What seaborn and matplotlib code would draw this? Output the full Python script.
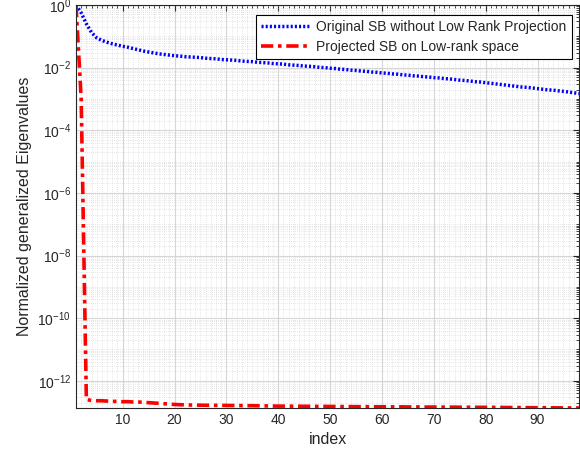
import numpy as np
import pandas as pd
import seaborn as sns
import matplotlib.pyplot as plt
from matplotlib.ticker import LogFormatterSciNotation, MultipleLocator, NullFormatter

# --- data (index 1..98) ---
index = list(range(1, 99))

original_sb = [
    1.0, 0.562, 0.251, 0.132, 0.0891, 0.0741, 0.0646, 0.0575, 0.0525, 0.0479,
    0.0447, 0.0407, 0.0372, 0.0339, 0.0316, 0.0295, 0.0275, 0.0263, 0.0251, 0.0240,
    0.0234, 0.0224, 0.0219, 0.0214, 0.0209, 0.0200, 0.0195, 0.0191, 0.0182, 0.0178,
    0.0174, 0.0170, 0.0162, 0.0158, 0.0155, 0.0148, 0.0145, 0.0141, 0.0135, 0.0132,
    0.0129, 0.0123, 0.0120, 0.0117, 0.0112, 0.0110, 0.0107, 0.0102, 0.0100, 0.00955,
    0.00933, 0.00891, 0.00871, 0.00832, 0.00813, 0.00776, 0.00759, 0.00724, 0.00708, 0.00676,
    0.00661, 0.00631, 0.00617, 0.00589, 0.00575, 0.00550, 0.00537, 0.00513, 0.00501, 0.00479,
    0.00468, 0.00447, 0.00437, 0.00417, 0.00398, 0.00389, 0.00372, 0.00355, 0.00347, 0.00331,
    0.00316, 0.00302, 0.00288, 0.00275, 0.00263, 0.00251, 0.00240, 0.00234, 0.00224, 0.00214,
    0.00204, 0.00195, 0.00191, 0.00182, 0.00174, 0.00166, 0.00158, 0.00148,
]

projected_sb = [
    1.0, 1e-3, 2.50e-13, 2.35e-13, 2.30e-13, 2.30e-13, 2.25e-13, 2.20e-13, 2.20e-13, 2.15e-13,
    2.15e-13, 2.10e-13, 2.10e-13, 2.05e-13, 2.00e-13, 1.95e-13, 1.90e-13, 1.85e-13, 1.80e-13, 1.75e-13,
    1.72e-13, 1.70e-13, 1.68e-13, 1.67e-13, 1.66e-13, 1.65e-13, 1.65e-13, 1.64e-13, 1.64e-13, 1.63e-13,
    1.62e-13, 1.62e-13, 1.61e-13, 1.60e-13, 1.60e-13, 1.59e-13, 1.58e-13, 1.57e-13, 1.56e-13, 1.55e-13,
    1.55e-13, 1.55e-13, 1.54e-13, 1.54e-13, 1.53e-13, 1.53e-13, 1.52e-13, 1.52e-13, 1.52e-13, 1.51e-13,
    1.51e-13, 1.50e-13, 1.50e-13, 1.50e-13, 1.49e-13, 1.49e-13, 1.49e-13, 1.48e-13, 1.48e-13, 1.48e-13,
    1.48e-13, 1.47e-13, 1.47e-13, 1.47e-13, 1.46e-13, 1.46e-13, 1.46e-13, 1.45e-13, 1.45e-13, 1.45e-13,
    1.44e-13, 1.44e-13, 1.44e-13, 1.44e-13, 1.43e-13, 1.43e-13, 1.43e-13, 1.42e-13, 1.42e-13, 1.42e-13,
    1.42e-13, 1.41e-13, 1.41e-13, 1.40e-13, 1.40e-13, 1.40e-13, 1.39e-13, 1.39e-13, 1.38e-13, 1.38e-13,
    1.38e-13, 1.37e-13, 1.37e-13, 1.36e-13, 1.36e-13, 1.36e-13, 1.35e-13, 1.35e-13,
]

labels = ['Original SB without Low Rank Projection', 'Projected SB on Low-rank space']

df = pd.DataFrame({'index': index, 'orig': original_sb, 'proj': projected_sb})

sns.set_style("white")
plt.rcParams['font.family'] = ['Liberation Sans', 'DejaVu Sans']
plt.rcParams['mathtext.fontset'] = 'custom'
plt.rcParams['mathtext.rm'] = 'Liberation Sans'
plt.rcParams['mathtext.it'] = 'Liberation Sans:italic'

text_col = '#262626'

fig = plt.figure(figsize=(5.8, 4.61), dpi=100)
ax = fig.add_axes([76 / 580, 1 - 408 / 461, 503 / 580, 403 / 461])

sns.lineplot(data=df, x='index', y='orig', ax=ax, color='blue', lw=2.5,
             linestyle=(0, (0.6, 0.6)), label=labels[0])
sns.lineplot(data=df, x='index', y='proj', ax=ax, color='red', lw=2.6,
             linestyle=(0, (3.4, 1.3, 1.0, 1.3)), label=labels[1])

ax.set_yscale('log')
ax.set_xlim(1, 98)

ax.xaxis.set_major_locator(MultipleLocator(10))
ax.xaxis.set_minor_locator(MultipleLocator(1))

# MATLAB labels only every other decade
ax.set_yticks([10.0 ** k for k in range(-12, 1, 2)])
ax.set_yticks([10.0 ** k for k in range(-13, 0, 2)] +
              [m * 10.0 ** k for k in range(-14, 0) for m in range(2, 10)], minor=True)
ax.yaxis.set_major_formatter(LogFormatterSciNotation())
ax.yaxis.set_minor_formatter(NullFormatter())
ax.set_ylim(min(projected_sb), 1.0)

ax.grid(True, which='major', color='#d6d6d6', linestyle='-', lw=0.8)
ax.grid(True, which='minor', color='#cfcfcf', linestyle=(0, (1, 2)), lw=0.5)
ax.set_axisbelow(True)

ax.tick_params(which='both', direction='in', top=True, right=True, colors=text_col, labelsize=10)
ax.tick_params(which='major', length=4, width=0.8)
ax.tick_params(which='minor', length=2, width=0.6)
for s in ax.spines.values():
    s.set_color(text_col)
    s.set_linewidth(0.8)

ax.set_xlabel('index', fontsize=11.5, color=text_col)
ax.set_ylabel('Normalized generalized Eigenvalues', fontsize=11.5, color=text_col)

leg = ax.legend(loc='upper right', bbox_to_anchor=(0.986, 0.976), borderaxespad=0,
                fontsize=10, handlelength=3.6, handletextpad=0.35, fancybox=False,
                frameon=True, edgecolor='black', framealpha=1, borderpad=0.4,
                labelspacing=0.4)
leg.get_frame().set_linewidth(0.8)
for t in leg.get_texts():
    t.set_color(text_col)

fig.savefig('out.png', dpi=100)
